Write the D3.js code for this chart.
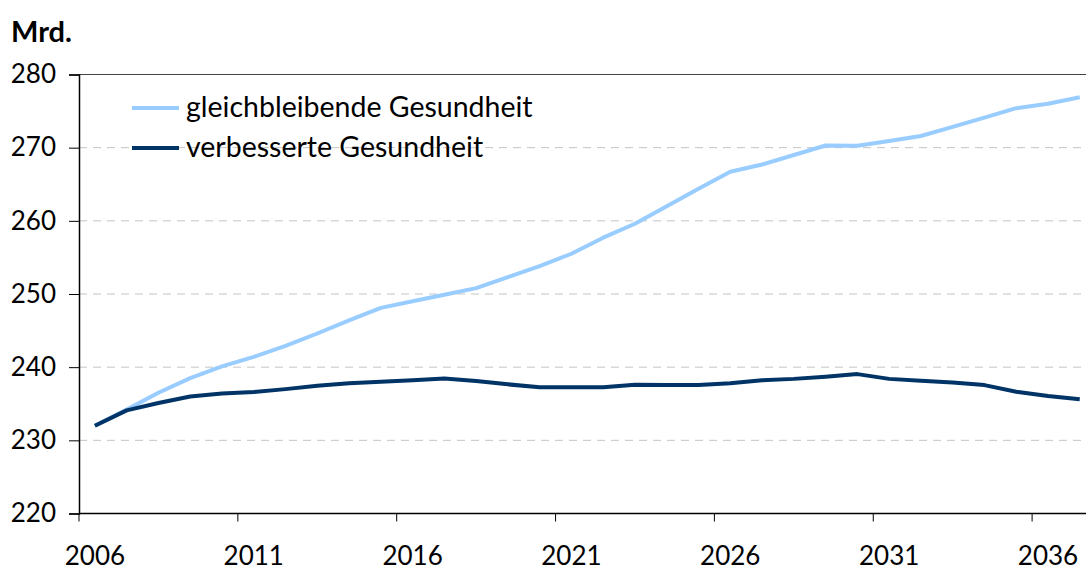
<!DOCTYPE html>
<html><head><meta charset="utf-8">
<script src="https://cdn.jsdelivr.net/npm/d3@7"></script>
<style>
html,body{margin:0;padding:0;background:#fff;}
svg{display:block;font-family:Lato,"Open Sans",sans-serif;}
</style></head>
<body>
<svg id="c" width="1086" height="570"></svg>
<script>
const years = d3.range(2006, 2038);
const gleichbleibend = [232.0,234.2,236.5,238.5,240.1,241.4,242.9,244.6,246.4,248.1,249.0,249.9,250.8,252.3,253.8,255.5,257.7,259.6,262.0,264.4,266.7,267.7,269.0,270.3,270.25,270.9,271.6,272.85,274.1,275.4,276.0,276.9];
const verbessert = [232.0,234.1,235.1,236.0,236.4,236.6,237.0,237.45,237.8,238.0,238.2,238.45,238.1,237.65,237.25,237.25,237.25,237.6,237.55,237.55,237.8,238.2,238.4,238.7,239.05,238.4,238.15,237.9,237.55,236.65,236.05,235.6];
const yTicks = [220,230,240,250,260,270,280];
const xLabelYears = [2006,2011,2016,2021,2026,2031,2036];
const seriesNames = ["gleichbleibende Gesundheit","verbesserte Gesundheit"];
const seriesColors = ["#99ccff","#003366"];
const unitLabel = "Mrd.";

const svg = d3.select("#c");
const mLeft = 79, mTop = 74.5, mBottom = 513.5;
const band = 31.77;
const mRight = mLeft + band * years.length;

const x = d3.scaleBand().domain(years).range([mLeft, mRight]);
const y = d3.scaleLinear().domain([220, 280]).range([mBottom, mTop]);

// gridlines
svg.append("g").selectAll("line").data(yTicks.filter(v => v > 220 && v < 280)).join("line")
  .attr("x1", mLeft).attr("x2", 1086).attr("y1", d => y(d)).attr("y2", d => y(d))
  .attr("stroke", "#c4c4c4").attr("stroke-width", 1).attr("stroke-dasharray", "8,6");
svg.append("line").attr("x1", mLeft).attr("x2", 1086).attr("y1", y(280)).attr("y2", y(280))
  .attr("stroke", "#444").attr("stroke-width", 1.2);

// y axis
const yAxis = d3.axisLeft(y).tickValues(yTicks).tickSize(10).tickPadding(13).tickFormat(d3.format("d"));
const ga = svg.append("g").attr("transform", `translate(${mLeft},0)`).call(yAxis);
ga.select(".domain").attr("stroke", "#000").attr("stroke-width", 1.5);
ga.selectAll(".tick line").attr("stroke", "#000").attr("stroke-width", 1);
ga.selectAll("text").attr("font-size", 26).attr("fill", "#000").attr("font-family", "Lato, sans-serif");

// x axis
svg.append("line").attr("x1", mLeft).attr("x2", 1086).attr("y1", mBottom).attr("y2", mBottom)
  .attr("stroke", "#000").attr("stroke-width", 1.5);
svg.append("g").selectAll("line").data(xLabelYears).join("line")
  .attr("x1", d => x(d)).attr("x2", d => x(d)).attr("y1", mBottom).attr("y2", mBottom + 8)
  .attr("stroke", "#000").attr("stroke-width", 1);
svg.append("g").selectAll("text").data(xLabelYears).join("text")
  .attr("x", d => x(d) + x.bandwidth() / 2).attr("y", 565)
  .attr("text-anchor", "middle").attr("font-size", 26).attr("fill", "#000").text(d => d);

// unit
svg.append("text").attr("x", 11).attr("y", 42).attr("font-size", 29).attr("font-weight", "bold").text(unitLabel);

// lines
const line = d3.line().x((d, i) => x(years[i]) + x.bandwidth() / 2).y(d => y(d));
[gleichbleibend, verbessert].forEach((s, k) => {
  svg.append("path").datum(s).attr("d", line).attr("fill", "none")
    .attr("stroke", seriesColors[k]).attr("stroke-width", 4).attr("stroke-linejoin", "round");
});

// legend
const lg = svg.append("g");
seriesNames.forEach((n, k) => {
  const ly = 108 + k * 40;
  lg.append("line").attr("x1", 132).attr("x2", 179).attr("y1", ly).attr("y2", ly)
    .attr("stroke", seriesColors[k]).attr("stroke-width", 4);
  lg.append("text").attr("x", 186).attr("y", ly + 9).attr("font-size", 28.5).attr("fill", "#000").text(n);
});
</script>
</body></html>
